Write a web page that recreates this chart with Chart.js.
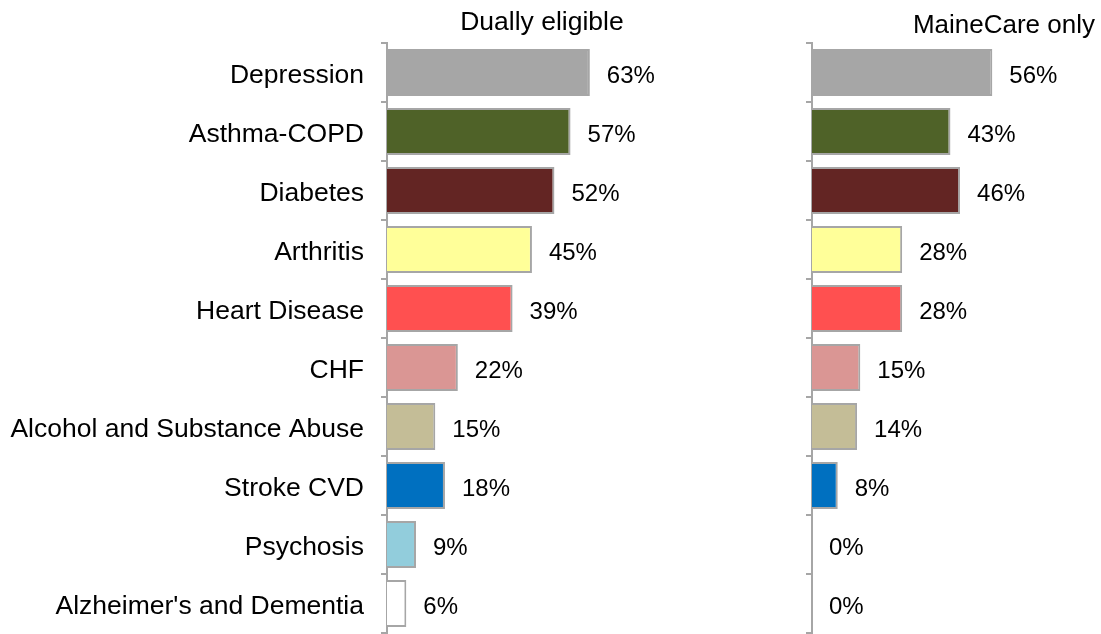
<!DOCTYPE html>
<html>
<head>
<meta charset="utf-8">
<script src="https://cdn.jsdelivr.net/npm/chart.js@4"></script>
<style>
  html, body { margin: 0; padding: 0; background: #fff; overflow: hidden; }
  #wrap { position: relative; width: 1101px; height: 634px; font-family: 'Liberation Sans', Arial, sans-serif; }
  .panel { position: absolute; top: 0; height: 634px; }
  .ttl { position: absolute; font-size: 26.5px; line-height: 26px; color: #000; white-space: pre; }
</style>
</head>
<body>
<div id="wrap">
  <div class="panel" style="left:0;width:709px"><canvas id="leftChart"></canvas></div>
  <div class="panel" style="left:709px;width:392px"><canvas id="rightChart"></canvas></div>
  <div class="ttl" style="left:442px;width:200px;text-align:center;top:8px">Dually eligible</div>
  <div class="ttl" style="left:855px;width:240px;text-align:right;top:11px;font-size:26px">MaineCare only</div>
</div>
<script>
/* ── data ─────────────────────────────────────── */
const conditions = [
  'Depression', 'Asthma-COPD', 'Diabetes', 'Arthritis', 'Heart Disease',
  'CHF', 'Alcohol and Substance Abuse', 'Stroke CVD', 'Psychosis', "Alzheimer's and Dementia",
];
const duallyEligible = [63, 57, 52, 45, 39, 22, 15, 18, 9, 6];
const maineCareOnly  = [56, 43, 46, 28, 28, 15, 14, 8, 0, 0];
const barColors = [
  '#a6a6a6', '#4f6228', '#632523', '#ffff99', '#ff5050',
  '#da9694', '#c4bd97', '#0070c0', '#92cddc', '#ffffff',
];

const FONT   = "'Liberation Sans', Arial, sans-serif";
const PX_PER = 3.22;   // px per percent point (both panels)

/* ── value labels at bar end ───────────────────── */
const valueLabels = {
  id: 'valueLabels',
  afterDatasetsDraw(chart) {
    const ctx  = chart.ctx;
    const ds   = chart.data.datasets[0];
    const meta = chart.getDatasetMeta(0);
    ctx.save();
    ctx.font = `24px ${FONT}`;
    ctx.fillStyle = '#000';
    ctx.textAlign = 'left';
    ctx.textBaseline = 'middle';
    meta.data.forEach((bar, i) => {
      ctx.fillText(`${ds.data[i]}%`, bar.x + 17, bar.y + 4);
    });
    ctx.restore();
  },
};

function makeChart(id, values, axisWidth, showLabels) {
  const panelWidth = document.getElementById(id).parentNode.clientWidth;
  const xMax = (panelWidth - axisWidth) / PX_PER;

  return new Chart(document.getElementById(id), {
    type: 'bar',
    data: {
      labels: conditions,
      datasets: [{
        data: values,
        backgroundColor: barColors,
        borderColor: '#a6a6a6',
        borderWidth: 2,
        borderSkipped: 'start',
        barPercentage: 0.8,
        categoryPercentage: 1,
      }],
    },
    options: {
      indexAxis: 'y',
      responsive: true,
      maintainAspectRatio: false,
      animation: false,
      layout: { padding: { top: 43, bottom: 1, left: 0, right: 0 } },
      plugins: {
        legend: { display: false },
        tooltip: { enabled: false },
      },
      scales: {
        x: { display: false, min: 0, max: xMax },
        y: {
          afterFit(scale) {
            scale.width = axisWidth;
            scale.paddingTop = 0;      // labels sit inside their bands
            scale.paddingBottom = 0;
          },
          border: { display: true, color: '#a6a6a6', width: 2 },
          grid: {
            offset: true,
            drawOnChartArea: false,
            drawTicks: true,
            tickLength: 6,
            color: '#a6a6a6',
            lineWidth: 2,
          },
          ticks: {
            display: showLabels,
            color: '#000',
            padding: 17,
            labelOffset: 3,
            font: { family: FONT, size: 26.5 },
          },
        },
      },
    },
    plugins: [valueLabels],
  });
}

makeChart('leftChart',  duallyEligible, 387, true);
makeChart('rightChart', maineCareOnly, 103, false);
</script>
</body>
</html>
